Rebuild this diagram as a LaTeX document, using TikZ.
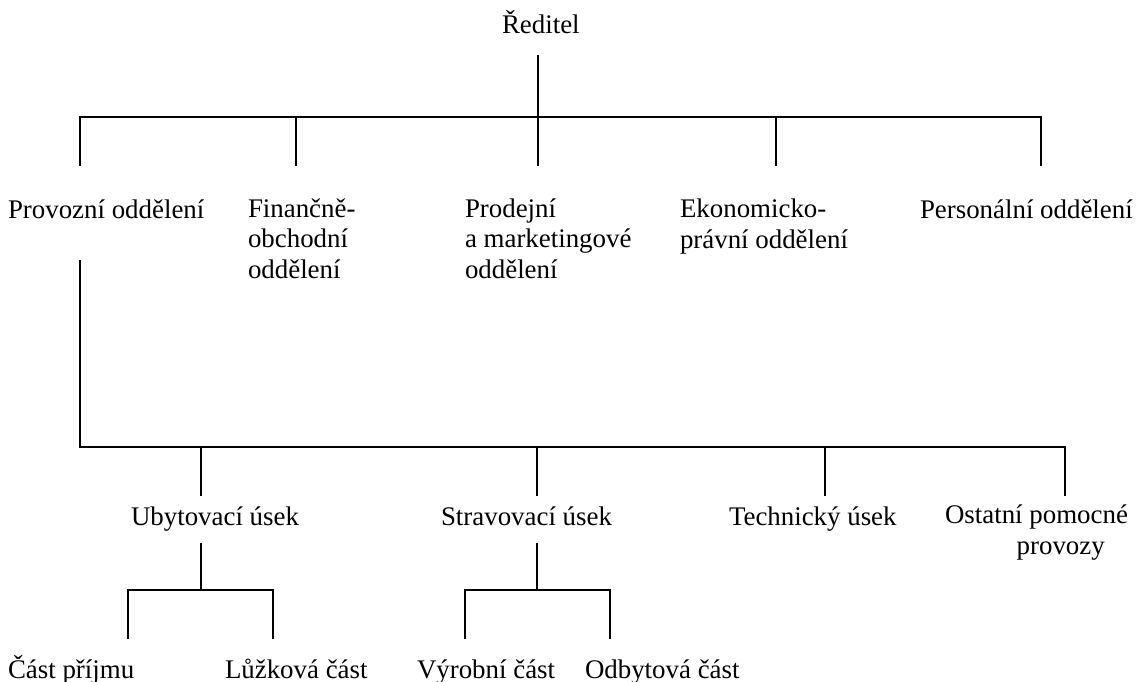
\documentclass[tikz,border=0pt]{standalone}
\usepackage{fontspec}
\setmainfont{Liberation Serif}
\begin{document}
\begin{tikzpicture}[x=0.4464pt,y=-0.4464pt,
  txt/.style={inner sep=0pt, outer sep=0pt, anchor=base west, align=left,
    font=\fontsize{12}{13.44}\selectfont},
  ln/.style={line width=0.9pt, line cap=butt}]
\useasboundingbox (0,0) rectangle (1136,681);
% texts (multi-line nodes are placed at the baseline of their last line)
\node[txt] (red) at (502,33) {Ředitel};
\node[txt] (prov) at (8,218) {Provozní oddělení};
\node[txt] (fin) at (248,278) {Finančně-\\obchodní\\oddělení};
\node[txt] (prod) at (465,278) {Prodejní\\a marketingové\\oddělení};
\node[txt] (eko) at (680,248) {Ekonomicko-\\právní oddělení};
\node[txt] (pers) at (920,218) {Personální oddělení};
\node[txt] (uby) at (131,525) {Ubytovací úsek};
\node[txt] (strav) at (441,525) {Stravovací úsek};
\node[txt] (tech) at (729,525) {Technický úsek};
\node[txt] (ost) at (945,554) {Ostatní pomocné\\\hspace*{32pt}provozy};
\node[txt] (prij) at (8,678) {Část příjmu};
\node[txt] (luz) at (225,678) {Lůžková část};
\node[txt] (vyr) at (417,678) {Výrobní část};
\node[txt] (odb) at (585,678) {Odbytová část};
% junction coordinates
\coordinate (r0) at (538,55);
\coordinate (b1l) at (80,117);
\coordinate (b1r) at (1041,117);
\coordinate (d1a) at (80,166);
\coordinate (d1b) at (296,166);
\coordinate (d1c) at (538,166);
\coordinate (d1d) at (776,166);
\coordinate (d1e) at (1041,166);
\coordinate (p0) at (80,260);
\coordinate (b2l) at (80,447);
\coordinate (b2r) at (1065,447);
\coordinate (d2a) at (201,496);
\coordinate (d2b) at (537,496);
\coordinate (d2c) at (825,496);
\coordinate (d2d) at (1065,496);
\coordinate (u0) at (201,543);
\coordinate (u1) at (201,590);
\coordinate (ul) at (128,590);
\coordinate (ur) at (273,590);
\coordinate (ula) at (128,639);
\coordinate (ura) at (273,639);
\coordinate (s0) at (537,543);
\coordinate (s1) at (537,590);
\coordinate (sl) at (465,590);
\coordinate (sr) at (610,590);
\coordinate (sla) at (465,639);
\coordinate (sra) at (610,639);
% lines
\draw[ln] (r0) -- (d1c);
\draw[ln] (d1a) -- (b1l) -- (b1r) -- (d1e);
\draw[ln] (d1b |- b1l) -- (d1b);
\draw[ln] (d1d |- b1l) -- (d1d);
\draw[ln] (p0) -- (b2l) -- (b2r) -- (d2d);
\draw[ln] (d2a |- b2l) -- (d2a);
\draw[ln] (d2b |- b2l) -- (d2b);
\draw[ln] (d2c |- b2l) -- (d2c);
\draw[ln] (u0) -- (u1);
\draw[ln] (ula) -- (ul) -- (ur) -- (ura);
\draw[ln] (s0) -- (s1);
\draw[ln] (sla) -- (sl) -- (sr) -- (sra);
\end{tikzpicture}
\end{document}
